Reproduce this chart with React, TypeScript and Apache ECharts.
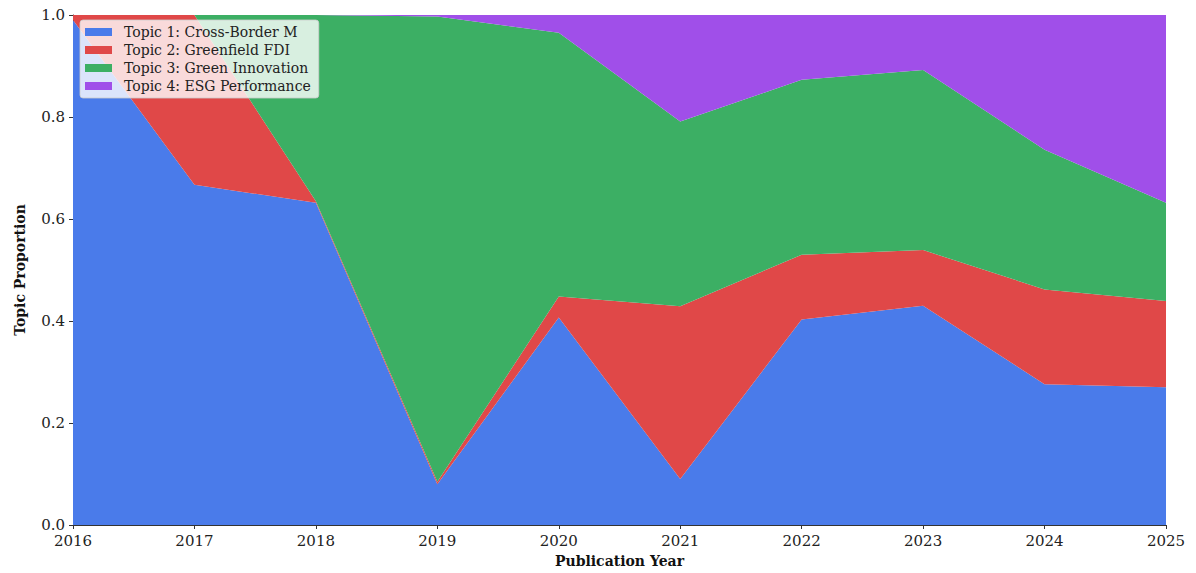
import React, { useEffect, useRef } from "react";
import * as echarts from "echarts";

// Publication years on the x axis
const years = ["2016", "2017", "2018", "2019", "2020", "2021", "2022", "2023", "2024", "2025"];

// Topic shares per year (stacked to 1.0)
const topic1CrossBorder = [0.99, 0.667, 0.632, 0.08, 0.407, 0.09, 0.403, 0.43, 0.276, 0.27];
const topic2Greenfield = [0.01, 0.333, 0.003, 0.005, 0.041, 0.339, 0.127, 0.109, 0.186, 0.169];
const topic3GreenInnov = [0.0, 0.0, 0.365, 0.912, 0.517, 0.362, 0.343, 0.353, 0.274, 0.193];
const topic4ESG = [0.0, 0.0, 0.0, 0.003, 0.035, 0.209, 0.127, 0.108, 0.264, 0.368];

const seriesNames = [
  "Topic 1: Cross-Border M",
  "Topic 2: Greenfield FDI",
  "Topic 3: Green Innovation",
  "Topic 4: ESG Performance",
];
const seriesColors = ["#4a7bea", "#e04848", "#3caf64", "#a04fe9"];
const yTicks = [0, 0.2, 0.4, 0.6, 0.8, 1.0];

const FONT = "DejaVu Serif";

export default function App() {
  const ref = useRef<HTMLDivElement>(null);

  useEffect(() => {
    if (!ref.current) return;
    const chart = echarts.init(ref.current, null, { renderer: "svg" });
    const data = [topic1CrossBorder, topic2Greenfield, topic3GreenInnov, topic4ESG];

    chart.setOption({
      animation: false,
      backgroundColor: "#ffffff",
      grid: { left: 73, right: 30, top: 15, bottom: 47, containLabel: false },
      legend: {
        left: 80,
        top: 20,
        orient: "vertical",
        itemWidth: 27,
        itemHeight: 8,
        itemGap: 4,
        padding: [5, 8, 5, 5],
        backgroundColor: "rgba(255,255,255,0.8)",
        borderColor: "rgba(204,204,204,0.8)",
        borderWidth: 1,
        borderRadius: 3,
        icon: "rect",
        textStyle: { fontFamily: FONT, fontSize: 14, color: "#222", padding: [0, 0, 0, 7] },
        data: seriesNames,
      },
      xAxis: {
        type: "category",
        data: years,
        boundaryGap: false,
        name: "Publication Year",
        nameLocation: "middle",
        nameGap: 29,
        nameTextStyle: { fontFamily: FONT, fontSize: 14, fontWeight: "bold", color: "#111" },
        axisLine: { show: true, lineStyle: { color: "#333", width: 1 } },
        axisTick: { show: true, alignWithLabel: true, length: 4, lineStyle: { color: "#333" } },
        axisLabel: { fontFamily: FONT, fontSize: 15, color: "#222", margin: 8 },
        splitLine: { show: false },
      },
      yAxis: {
        type: "value",
        min: 0,
        max: 1,
        interval: 0.2,
        name: "Topic Proportion",
        nameLocation: "middle",
        nameGap: 46,
        nameTextStyle: { fontFamily: FONT, fontSize: 14, fontWeight: "bold", color: "#111" },
        axisLine: { show: true, lineStyle: { color: "#333", width: 1 } },
        axisTick: { show: true, length: 4, lineStyle: { color: "#333" } },
        axisLabel: {
          fontFamily: FONT,
          fontSize: 15,
          color: "#222",
          margin: 8,
          formatter: (v: number) => (yTicks.some((t) => Math.abs(t - v) < 1e-9) ? v.toFixed(1) : ""),
        },
        splitLine: { show: false },
      },
      series: seriesNames.map((name, i) => ({
        name,
        type: "line",
        stack: "total",
        data: data[i],
        showSymbol: false,
        symbol: "none",
        lineStyle: { width: 0 },
        areaStyle: { color: seriesColors[i], opacity: 1 },
        itemStyle: { color: seriesColors[i] },
        z: 2,
      })),
    });

    return () => chart.dispose();
  }, []);

  return (
    <div
      ref={ref}
      style={{ position: "fixed", left: 0, top: 0, width: 1196, height: 573 }}
    />
  );
}
